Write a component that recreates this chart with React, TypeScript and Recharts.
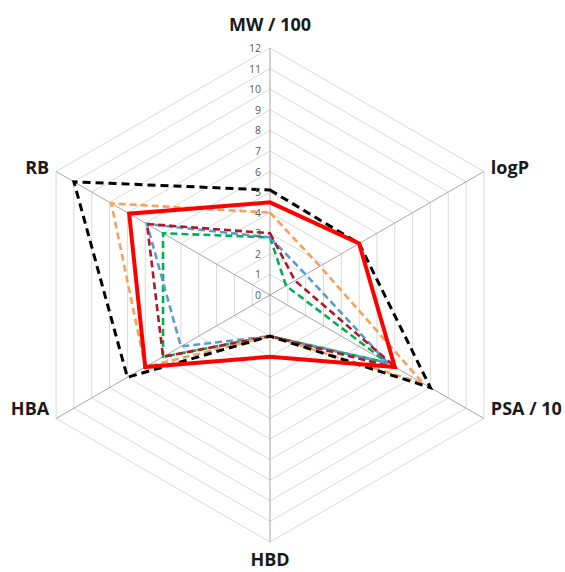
import React from 'react';
import { RadarChart, Radar, PolarGrid, PolarAngleAxis, PolarRadiusAxis } from 'recharts';

const categories = ['MW / 100', 'logP', 'PSA / 10', 'HBD', 'HBA', 'RB'];
const blackLimit = [5.1, 5.0, 9.0, 2.0, 8.0, 11.0];
const redMain = [4.5, 5.0, 7.0, 3.0, 7.0, 7.9];
const orangeSeries = [4.0, 2.8, 8.6, 2.0, 7.0, 8.9];
const darkRedSeries = [3.0, 1.4, 7.1, 2.0, 6.0, 6.9];
const blueSeries = [2.8, 2.0, 6.6, 2.0, 5.0, 6.9];
const greenSeries = [2.8, 0.9, 6.6, 2.0, 6.0, 6.0];
const radiusTicks = [0, 1, 2, 3, 4, 5, 6, 7, 8, 9, 10, 11, 12];

const data = categories.map((name, i) => ({
  name,
  black: blackLimit[i],
  red: redMain[i],
  orange: orangeSeries[i],
  darkred: darkRedSeries[i],
  blue: blueSeries[i],
  green: greenSeries[i],
}));

const labelDy: Record<string, number> = {
  'MW / 100': -16,
  logP: -1,
  'PSA / 10': -15,
  HBD: 9,
  HBA: -15,
  RB: -1,
};

const AngleTick = (props: any) => {
  const { x, y, payload, textAnchor } = props;
  const dy = labelDy[payload.value] ?? 0;
  return (
    <text
      x={x}
      y={y + dy}
      textAnchor={textAnchor}
      dominantBaseline="central"
      fontFamily="'Open Sans', sans-serif"
      fontWeight={700}
      fontSize={18}
      fill="#1a1a1a"
    >
      {payload.value}
    </text>
  );
};

const RadiusTick = (props: any) => {
  const { x, y, payload } = props;
  return (
    <text
      x={x - 9}
      y={y}
      textAnchor="end"
      dominantBaseline="central"
      fontFamily="'Open Sans', sans-serif"
      fontSize={10.5}
      fill="#595959"
    >
      {payload.value}
    </text>
  );
};

export default function App() {
  return (
    <div style={{ position: 'absolute', left: 0, top: 0, background: '#fff' }}>
      <RadarChart
        width={565}
        height={572}
        data={data}
        cx={270}
        cy={295}
        outerRadius={247}
        startAngle={90}
        endAngle={-270}
        margin={{ top: 0, right: 0, bottom: 0, left: 0 }}
      >
        <PolarGrid gridType="polygon" stroke="#d9d9d9" strokeWidth={1} radialLines={false} />
        <PolarGrid gridType="polygon" stroke="#a6a6a6" strokeWidth={1} polarRadius={[]} radialLines={true} />
        <PolarAngleAxis dataKey="name" tick={AngleTick} tickLine={false} axisLine={false} />
        <PolarRadiusAxis
          angle={90}
          domain={[0, 12]}
          ticks={radiusTicks as any}
          tickCount={13}
          axisLine={false}
          tickLine={false}
          tick={RadiusTick}
        />
        <Radar dataKey="green" stroke="#00b050" strokeWidth={2.6} strokeDasharray="7 4" fill="none" dot={false} isAnimationActive={false} />
        <Radar dataKey="blue" stroke="#5b9bd5" strokeWidth={2.6} strokeDasharray="7 4" fill="none" dot={false} isAnimationActive={false} />
        <Radar dataKey="darkred" stroke="#b0172a" strokeWidth={2.6} strokeDasharray="7 4" fill="none" dot={false} isAnimationActive={false} />
        <Radar dataKey="orange" stroke="#f4a25a" strokeWidth={2.6} strokeDasharray="7 4" fill="none" dot={false} isAnimationActive={false} />
        <Radar dataKey="black" stroke="#000000" strokeWidth={3} strokeDasharray="8 5" fill="none" dot={false} isAnimationActive={false} />
        <Radar dataKey="red" stroke="#ff0000" strokeWidth={4} fill="none" dot={false} isAnimationActive={false} />
      </RadarChart>
    </div>
  );
}
